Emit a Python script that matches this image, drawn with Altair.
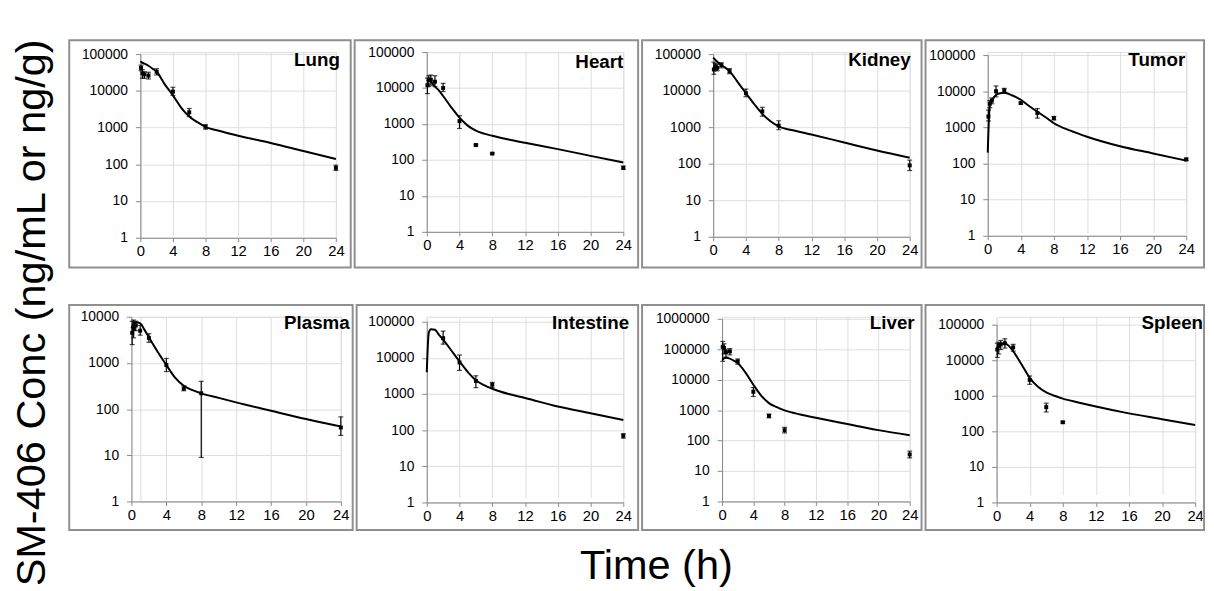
import altair as alt
import pandas as pd

FONT = "Liberation Sans, Arial, Helvetica, sans-serif"

# ---------------- data ----------------
FIT_T = [0, 0.25, 0.5, 1, 1.5, 2, 3, 4, 5, 6, 7, 8, 10, 12, 16, 20, 24]
OBS_T = [0.083, 0.25, 0.5, 1, 2, 4, 6, 8, 24]

LUNG_FIT = [62000, 58000, 55000, 48000, 40000, 33000, 15000, 7500, 3500, 2000, 1400, 1050, 780, 600, 380, 230, 140]
LUNG_MEAN = [42000, 30000, 28000, 26000, 33000, 9500, 2600, 1050, 80]
LUNG_LO = [35000, 22000, 22000, 21000, 27000, 7500, 2000, 900, 68]
LUNG_HI = [50000, 38000, 33000, 32000, 40000, 12500, 3300, 1200, 95]

HEART_FIT = [17000, 16000, 15000, 11000, 8500, 6000, 2900, 1500, 900, 650, 540, 470, 370, 300, 200, 130, 85]
HEART_MEAN = [12000, 17000, 17000, 15000, 10000, 1200, 260, 150, 60]
HEART_LO = [7000, 11000, 12000, 11000, 8000, 750, 245, 145, 55]
HEART_HI = [19000, 22000, 23000, 22000, 13500, 1700, 275, 158, 68]

KIDNEY_FIT = [80000, 70000, 62000, 50000, 42000, 34000, 17000, 8500, 4300, 2300, 1450, 1050, 800, 630, 380, 230, 145]
KIDNEY_MEAN = [38000, 45000, 42000, 50000, 34000, 8500, 2700, 1100, 90]
KIDNEY_LO = [28000, 35000, 35000, 42000, 29000, 6800, 2000, 850, 65]
KIDNEY_HI = [60000, 55000, 52000, 58000, 40000, 11000, 3500, 1500, 125]

TUMOR_FIT = [200, 4000, 5500, 7800, 8800, 9000, 7600, 5800, 3900, 2700, 1900, 1300, 810, 550, 300, 190, 120]
TUMOR_MEAN = [2000, 4500, 5500, 10000, 10500, 4700, 2500, 1800, 130]
TUMOR_LO = [1500, 3500, 4500, 7000, 9000, 4400, 1800, 1600, 120]
TUMOR_HI = [3000, 5500, 6500, 14000, 12000, 5000, 3300, 2000, 140]

PLASMA_FIT = [5600, 7200, 7600, 7200, 5200, 3600, 1750, 900, 480, 320, 257, 220, 175, 140, 92, 61, 42]
PLASMA_MEAN = [4500, 5500, 6500, 5000, 3500, 900, 280, 220, 40]
PLASMA_LO = [2500, 3500, 5000, 4000, 2800, 650, 250, 9, 27]
PLASMA_HI = [8000, 8500, 8000, 6500, 4300, 1250, 320, 400, 68]

INTESTINE_FIT = [4000, 50000, 62000, 60000, 43000, 32000, 16000, 8000, 4100, 2400, 1750, 1400, 1000, 780, 450, 295, 190]
INTESTINE_MEAN = [None, None, None, None, 35000, 7500, 2300, 1800, 70]
INTESTINE_LO = [None, None, None, None, 24000, 4500, 1500, 1500, 60]
INTESTINE_HI = [None, None, None, None, 55000, 12000, 3200, 2100, 80]

LIVER_FIT = [45000, 50000, 52000, 49000, 42000, 35000, 17000, 6800, 3000, 1700, 1250, 980, 720, 560, 350, 220, 150]
LIVER_MEAN = [120000, 110000, 80000, 85000, 40000, 4000, 650, 220, 35]
LIVER_LO = [40000, 70000, 55000, 65000, 32000, 2800, 560, 180, 27]
LIVER_HI = [180000, 150000, 100000, 105000, 48000, 5500, 740, 270, 45]

SPLEEN_FIT = [20000, 25000, 28000, 30000, 25000, 18000, 7700, 3200, 1800, 1250, 1000, 830, 640, 500, 320, 220, 150]
SPLEEN_MEAN = [20000, 25000, 28000, 30000, 23000, 2800, 480, 180, None]
SPLEEN_LO = [12000, 15000, 20000, 22000, 18000, 2100, 350, 170, None]
SPLEEN_HI = [30000, 32000, 36000, 40000, 28000, 3600, 620, 190, None]

X_TICKS = [0, 4, 8, 12, 16, 20, 24]

# ---------------- layout (pixel geometry of each panel) ----------------
# L,R,T,B: frame box; x0,x24: x-axis ends; yt,yb: y-axis ends; tx,ty: label anchor
# ox: x origin of the view (first column of each row shares it); rt: row top
GEOM = {
    "Lung":      dict(L=69, R=354, T=37, B=267, x0=141, x24=339, yt=51, yb=237, tx=343, ty=63, ox=141, rt=49),
    "Heart":     dict(L=356, R=643, T=37, B=267, x0=429, x24=628, yt=49, yb=231, tx=628, ty=65, ox=429, rt=49),
    "Kidney":    dict(L=645, R=928, T=37, B=267, x0=717, x24=916, yt=51, yb=236, tx=917, ty=63, ox=717, rt=49),
    "Tumor":     dict(L=930, R=1212, T=37, B=267, x0=993, x24=1194, yt=52, yb=235, tx=1193, ty=63, ox=993, rt=49),
    "Plasma":    dict(L=69, R=356, T=303, B=531, x0=132, x24=344, yt=315, yb=502, tx=353, ty=327, ox=141, rt=315),
    "Intestine": dict(L=358, R=643, T=303, B=531, x0=429, x24=628, yt=320, yb=503, tx=634, ty=327, ox=429, rt=315),
    "Liver":     dict(L=645, R=928, T=303, B=531, x0=726, x24=916, yt=317, yb=502, tx=921, ty=327, ox=726, rt=315),
    "Spleen":    dict(L=930, R=1212, T=303, B=531, x0=1002, x24=1203, yt=323, yb=503, tx=1211, ty=327, ox=1002, rt=315),
}

ONE = pd.DataFrame({"k": [0]})


def panel(name, fit, mean, lo, hi, ymax_exp):
    g = GEOM[name]
    ox, rt = g["ox"], g["rt"]
    w = g["x24"] - ox
    h = g["yb"] - rt
    xs = alt.Scale(domain=[0, 24], nice=False, range=[g["x0"] - ox, g["x24"] - ox])
    ys = alt.Scale(type="log", domain=[1, 10 ** ymax_exp], nice=False, range=[h, g["yt"] - rt])
    xax = alt.Axis(values=X_TICKS, labelFontSize=15, tickSize=4, labelPadding=2,
                   labelFlush=False, labelOverlap=False)
    yax_kw = dict(values=[10 ** k for k in range(ymax_exp + 1)], format="d",
                  labelFontSize=14, tickSize=5, labelPadding=8,
                  labelFlush=False, labelOverlap=False)
    if g["x0"] != ox:
        yax_kw["offset"] = ox - g["x0"]
    yax = alt.Axis(**yax_kw)
    X = lambda f: alt.X(f, scale=xs, axis=xax, title=None)
    Y = lambda f: alt.Y(f, scale=ys, axis=yax, title=None)

    fit_df = pd.DataFrame({"t": FIT_T, "c": fit})
    obs_df = pd.DataFrame({"t": OBS_T, "m": mean, "lo": lo, "hi": hi}).dropna()

    box = alt.Chart(ONE).mark_rect(filled=False, stroke="#8f8f8f", strokeWidth=2).encode(
        x=alt.value(g["L"] - ox), x2=alt.value(g["R"] - ox),
        y=alt.value(g["T"] - rt), y2=alt.value(g["B"] - rt))
    line = alt.Chart(fit_df).mark_line(color="black", strokeWidth=2, interpolate="monotone").encode(
        x=X("t:Q"), y=Y("c:Q"))
    base = alt.Chart(obs_df)
    bars = base.mark_rule(color="black", strokeWidth=1.2).encode(x=X("t:Q"), y=Y("lo:Q"), y2="hi:Q")
    cap_lo = base.mark_tick(orient="horizontal", color="black", size=5, thickness=1.2).encode(
        x=X("t:Q"), y=Y("lo:Q"))
    cap_hi = base.mark_tick(orient="horizontal", color="black", size=5, thickness=1.2).encode(
        x=X("t:Q"), y=Y("hi:Q"))
    pts = base.mark_point(filled=True, shape="square", size=16, color="black", opacity=1).encode(
        x=X("t:Q"), y=Y("m:Q"))
    label = alt.Chart(ONE).mark_text(align="right", baseline="alphabetic", font=FONT,
                                     fontSize=19, fontWeight="bold", color="black").encode(
        x=alt.value(g["tx"] - ox), y=alt.value(g["ty"] - rt), text=alt.value(name))
    return alt.layer(box, line, bars, cap_lo, cap_hi, pts, label).properties(width=w, height=h)


row1 = alt.hconcat(
    panel("Lung", LUNG_FIT, LUNG_MEAN, LUNG_LO, LUNG_HI, 5),
    panel("Heart", HEART_FIT, HEART_MEAN, HEART_LO, HEART_HI, 5),
    panel("Kidney", KIDNEY_FIT, KIDNEY_MEAN, KIDNEY_LO, KIDNEY_HI, 5),
    panel("Tumor", TUMOR_FIT, TUMOR_MEAN, TUMOR_LO, TUMOR_HI, 5),
    spacing=0)
row2 = alt.hconcat(
    panel("Plasma", PLASMA_FIT, PLASMA_MEAN, PLASMA_LO, PLASMA_HI, 4),
    panel("Intestine", INTESTINE_FIT, INTESTINE_MEAN, INTESTINE_LO, INTESTINE_HI, 5),
    panel("Liver", LIVER_FIT, LIVER_MEAN, LIVER_LO, LIVER_HI, 6),
    panel("Spleen", SPLEEN_FIT, SPLEEN_MEAN, SPLEEN_LO, SPLEEN_HI, 5),
    spacing=0)

inner = alt.vconcat(row1, row2, spacing=34,
                    title=alt.TitleParams("Time (h)", orient="bottom", anchor="middle",
                                          font=FONT, fontSize=42, fontWeight="normal",
                                          color="black", offset=15, dx=20))

chart = alt.hconcat(inner, title=alt.TitleParams(
    "SM-406 Conc (ng/mL or ng/g)", orient="left", anchor="middle", font=FONT,
    fontSize=42, fontWeight="normal", color="black", offset=14)
).properties(
    padding={"left": 3, "top": 27, "right": 0, "bottom": 0}
).configure_view(strokeWidth=0).configure_axis(
    labelFont=FONT, labelFontWeight="bold", labelColor="black",
    domainColor="black", tickColor="black", domainWidth=1.5, tickWidth=1.2, grid=False
).configure(background="white")

chart.save("out.html", embed_options={"renderer": "svg", "actions": False})
